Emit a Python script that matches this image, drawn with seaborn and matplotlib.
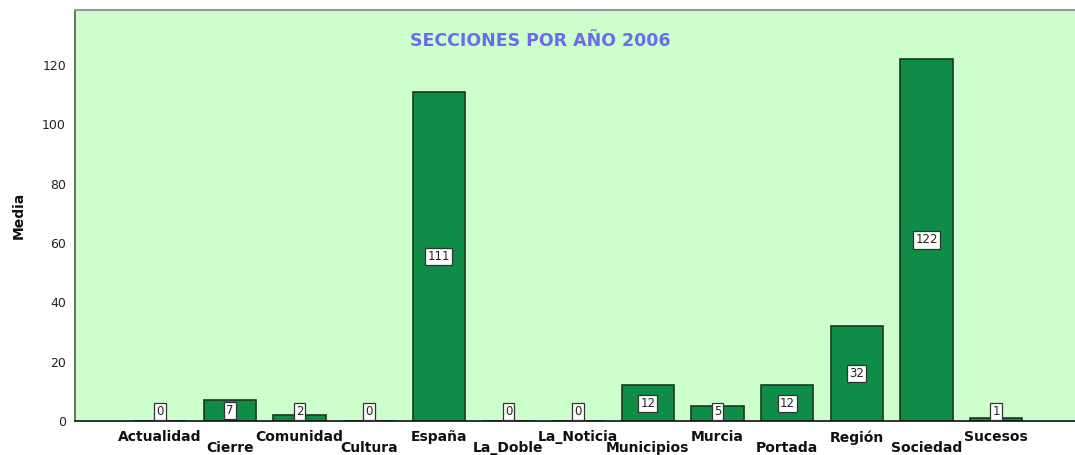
import numpy as np
import pandas as pd
import matplotlib
matplotlib.use("Agg")
import matplotlib.pyplot as plt
import seaborn as sns

# -------------------------------------------------------------------------
# Data
# -------------------------------------------------------------------------
secciones = ['Actualidad', 'Cierre', 'Comunidad', 'Cultura', 'España', 'La_Doble',
             'La_Noticia', 'Municipios', 'Murcia', 'Portada', 'Región', 'Sociedad',
             'Sucesos']
media = [0, 7, 2, 0, 111, 0, 0, 12, 5, 12, 32, 122, 1]
y_ticks = [0, 20, 40, 60, 80, 100, 120]

df = pd.DataFrame({'seccion': secciones, 'media': media})

# -------------------------------------------------------------------------
# Figure
# -------------------------------------------------------------------------
sns.set_style("white")
plt.rcParams['font.family'] = ['DejaVu Sans']

fig = plt.figure(figsize=(10.75, 4.55), dpi=100)
ax = fig.add_axes([75 / 1075, 34 / 455, 1000 / 1075, 411 / 455])
ax.set_facecolor('#ccffcc')

sns.barplot(data=df, x='seccion', y='media', color='#0f8c46', saturation=1,
            edgecolor='#1a3a22', linewidth=1.2, width=0.75, ax=ax)

n = len(secciones)
ax.set_xlim(-1.22, n - 1 + 1.13)
ax.set_ylim(0, 138.5)

# value labels in small white boxes
for i, v in enumerate(media):
    ax.text(i, max(v / 2, 3.3), str(v), ha='center', va='center', fontsize=8.5,
            color='#222222',
            bbox=dict(boxstyle='square,pad=0.18', fc='white', ec='#333333', lw=0.9))

# staggered category labels: even on first row, odd on second row
idx = np.arange(n)
ax.set_xticks(idx[::2], [secciones[i] for i in idx[::2]])
ax.set_xticks(idx[1::2], [secciones[i] for i in idx[1::2]], minor=True)
ax.tick_params(axis='x', which='major', length=4.5, width=1.2, color='#333333',
               pad=2, labelsize=10, labelcolor='#111111')
ax.tick_params(axis='x', which='minor', length=14.5, width=1.2, color='#333333',
               pad=-0.2, labelsize=10, labelcolor='#111111')
for lab in ax.get_xticklabels(which='both'):
    lab.set_fontweight('bold')
ax.set_xlabel('')

ax.set_yticks(y_ticks)
ax.tick_params(axis='y', length=4.5, width=1.2, color='#333333', labelsize=9,
               labelcolor='#222222', pad=2)
ax.set_ylabel('Media', fontsize=10, fontweight='bold', labelpad=12, color='#111111')

ax.spines['right'].set_visible(False)
ax.spines['top'].set_color('#999999')
ax.spines['top'].set_linewidth(1.5)
ax.spines['left'].set_color('#555555')
ax.spines['left'].set_linewidth(1.2)
ax.spines['bottom'].set_color('#111111')
ax.spines['bottom'].set_linewidth(1.2)

ax.text(0.465, 0.925, 'SECCIONES POR AÑO 2006', transform=ax.transAxes,
        ha='center', va='center', fontsize=12.5, fontweight='bold', color='#6b6bf0')

fig.savefig('out.png', dpi=100)
